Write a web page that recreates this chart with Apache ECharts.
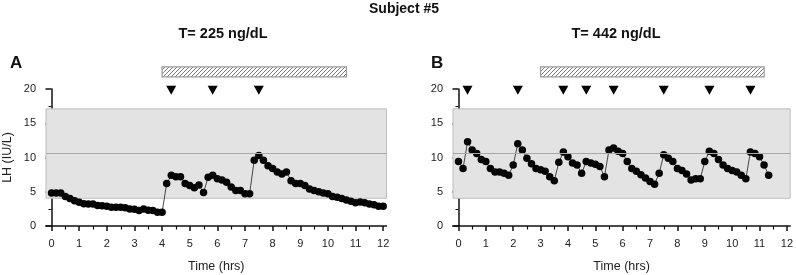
<!DOCTYPE html>
<html>
<head>
<meta charset="utf-8">
<script src="https://cdn.jsdelivr.net/npm/echarts@6/dist/echarts.min.js"></script>
<style>
  html, body { margin: 0; padding: 0; background: #fff; }
  #main { width: 796px; height: 275px; }
</style>
</head>
<body>
<div id="main"></div>
<script>
// sample times (minutes from start)
var minutesA = [0, 10, 20, 30, 40, 50, 60, 70, 80, 90, 100, 110, 120, 130, 140, 150, 160, 170,
  180, 190, 200, 210, 220, 230, 240, 250, 260, 270, 280, 290, 300, 310, 320, 330, 340, 350,
  360, 370, 380, 390, 400, 410, 420, 430, 440, 450, 460, 470, 480, 490, 500, 510, 520, 530,
  540, 550, 560, 570, 580, 590, 600, 610, 620, 630, 640, 650, 660, 670, 680, 690, 700, 710, 720];
var lhA = [4.8, 4.8, 4.8, 4.3, 4.0, 3.7, 3.45, 3.25, 3.2, 3.2, 3.0, 2.95,
  2.9, 2.75, 2.75, 2.75, 2.65, 2.5, 2.45, 2.25, 2.5, 2.3, 2.25, 2.0,
  2.0, 6.2, 7.4, 7.2, 7.2, 6.2, 5.9, 5.6, 6.0, 4.9, 7.1, 7.4,
  6.9, 6.7, 6.4, 5.7, 5.2, 5.2, 4.7, 4.7, 9.6, 10.3, 9.6, 8.8,
  8.4, 7.9, 7.6, 7.9, 6.6, 6.2, 6.2, 5.9, 5.4, 5.2, 5.0, 4.8,
  4.7, 4.3, 4.2, 4.0, 3.8, 3.6, 3.4, 3.5, 3.4, 3.2, 3.1, 2.9, 2.9];

var minutesB = [0, 10, 20, 30, 40, 50, 60, 70, 80, 90, 100, 110, 120, 130, 140, 150, 160, 170,
  180, 190, 200, 210, 220, 230, 240, 250, 260, 270, 280, 290, 300, 310, 320, 330, 340, 350,
  360, 370, 380, 390, 400, 410, 420, 430, 440, 450, 460, 470, 480, 490, 500, 510, 520, 530,
  540, 550, 560, 570, 580, 590, 600, 610, 620, 630, 640, 650, 660, 670, 680];
var lhB = [9.4, 8.4, 12.3, 11.1, 10.6, 9.7, 9.4, 8.4, 7.9, 7.9, 7.7, 7.4,
  8.9, 12.0, 11.1, 9.9, 9.1, 8.4, 8.2, 8.0, 7.2, 6.6, 9.3, 10.8,
  10.1, 9.2, 8.9, 7.7, 9.4, 9.2, 9.0, 8.7, 7.2, 11.1, 11.4, 10.9,
  10.6, 9.4, 8.4, 8.0, 7.5, 7.0, 6.5, 6.1, 7.7, 10.4, 9.9, 9.4,
  8.4, 8.1, 7.6, 6.7, 6.9, 6.9, 9.4, 10.9, 10.6, 9.7, 8.9, 8.4,
  8.1, 7.9, 7.4, 6.9, 10.8, 10.6, 10.1, 8.9, 7.4];

// pulse markers (hrs) and treatment bars [start, end] (hrs)
var pulsesA = [4.33, 5.83, 7.5];
var pulsesB = [0.33, 2.17, 3.83, 4.67, 5.67, 7.5, 9.17, 10.67];
var barA = [4, 10.67];
var barB = [3, 11.17];

// normal range band and mean line
var normalRange = [4.05, 17.1];
var normalMean = 10.6;

var hourTicks = [0, 1, 2, 3, 4, 5, 6, 7, 8, 9, 10, 11, 12];
var halfTicks = [0.5, 1.5, 2.5, 3.5, 4.5, 5.5, 6.5, 7.5, 8.5, 9.5, 10.5, 11.5];

var FONT = 'Liberation Sans, Arial, sans-serif';

function toPairs(mins, vals) {
  return mins.map(function (m, i) { return [m / 60, vals[i]]; });
}

// diagonal hatch pattern
var hatch = document.createElement('canvas');
hatch.width = 4; hatch.height = 4;
(function () {
  var c = hatch.getContext('2d');
  c.fillStyle = '#fff';
  c.fillRect(0, 0, 4, 4);
  c.strokeStyle = '#7a7a7a';
  c.lineWidth = 1;
  c.beginPath();
  c.moveTo(-1, 5); c.lineTo(5, -1);
  c.moveTo(-1, 1); c.lineTo(1, -1);
  c.moveTo(3, 5); c.lineTo(5, 3);
  c.stroke();
})();

function renderBar(params, api) {
  var a = api.coord([api.value(0), api.value(2)]);
  var b = api.coord([api.value(1), api.value(2)]);
  return {
    type: 'rect',
    shape: { x: a[0], y: a[1] - 5, width: b[0] - a[0], height: 10 },
    style: { fill: { image: hatch, repeat: 'repeat' }, stroke: '#9a9a9a', lineWidth: 1.2 }
  };
}

// short half-hour ticks below the x axis line
function renderMinorTick(params, api) {
  var p = api.coord([api.value(0), 0]);
  var x = Math.round(p[0]) + 0.5;
  return {
    type: 'line',
    shape: { x1: x, y1: p[1], x2: x, y2: p[1] + 3.5 },
    style: { stroke: '#111', lineWidth: 1.2 }
  };
}

function mainX(grid) {
  return {
    type: 'value', gridIndex: grid, min: -0.2, max: 12.12,
    name: 'Time (hrs)', nameLocation: 'middle', nameGap: 34,
    nameTextStyle: { fontFamily: FONT, fontSize: 12.5, color: '#222' },
    axisLine: { show: true, lineStyle: { color: '#111', width: 1.5 } },
    axisTick: { show: true, customValues: hourTicks, length: 5, lineStyle: { color: '#111', width: 1.5 } },
    axisLabel: { customValues: hourTicks, margin: 12, fontFamily: FONT, fontSize: 11, color: '#222' },
    splitLine: { show: false }
  };
}
function yAx(grid, withName) {
  return {
    type: 'value', gridIndex: grid, min: 0, max: 20, interval: 5,
    name: withName ? 'LH (IU/L)' : '', nameLocation: 'middle', nameGap: 32,
    nameTextStyle: { fontFamily: FONT, fontSize: 12.5, color: '#222' },
    axisLine: { show: true, lineStyle: { color: '#111', width: 1.5 } },
    axisTick: { show: true, length: 6, lineStyle: { color: '#111', width: 1.5 } },
    minorTick: { show: true, splitNumber: 2, length: 3, lineStyle: { color: '#111', width: 1 } },
    axisLabel: { margin: 10, fontFamily: FONT, fontSize: 11, color: '#222' },
    splitLine: { show: false },
    minorSplitLine: { show: false }
  };
}

function lhSeries(gi, data) {
  return {
    type: 'line', xAxisIndex: gi, yAxisIndex: gi, data: data,
    symbol: 'circle', symbolSize: 7.5, showAllSymbol: true,
    itemStyle: { color: '#050505', opacity: 1 },
    lineStyle: { color: '#333', width: 0.9 },
    markArea: {
      silent: true,
      itemStyle: { color: '#e3e3e3', borderColor: '#bdbdbd', borderWidth: 1 },
      data: [[{ yAxis: normalRange[0] }, { yAxis: normalRange[1] }]]
    },
    markLine: {
      silent: true, symbol: 'none', label: { show: false },
      lineStyle: { color: '#a8a8a8', type: 'solid', width: 1 },
      data: [{ yAxis: normalMean }]
    },
    z: 3
  };
}
function pulseSeries(gi, pulses) {
  return {
    type: 'scatter', xAxisIndex: gi, yAxisIndex: gi, clip: false,
    data: pulses.map(function (p) { return [p, 19.8]; }),
    symbol: 'triangle', symbolRotate: 180, symbolSize: [10, 9],
    itemStyle: { color: '#000', opacity: 1 }, z: 4
  };
}
function barSeries(gi, bar) {
  return {
    type: 'custom', xAxisIndex: gi, yAxisIndex: gi, clip: false,
    renderItem: renderBar, data: [[bar[0], bar[1], 22.5]],
    encode: { x: [0, 1], y: 2 }, z: 4
  };
}
function minorTickSeries(gi) {
  return {
    type: 'custom', xAxisIndex: gi, yAxisIndex: gi, clip: false, silent: true,
    renderItem: renderMinorTick, data: halfTicks.map(function (h) { return [h]; }),
    encode: { x: 0 }, z: 5
  };
}

var chart = echarts.init(document.getElementById('main'), null, { renderer: 'canvas' });
chart.setOption({
  animation: false,
  backgroundColor: '#fff',
  textStyle: { fontFamily: FONT },
  title: [
    { text: 'Subject #5', left: 399, top: -3, textAlign: 'center',
      textStyle: { fontFamily: FONT, fontSize: 14, fontWeight: 'bold', color: '#111' } },
    { text: 'T= 225 ng/dL', left: 218, top: 21, textAlign: 'center',
      textStyle: { fontFamily: FONT, fontSize: 14.5, fontWeight: 'bold', color: '#111' } },
    { text: 'T= 442 ng/dL', left: 611, top: 21, textAlign: 'center',
      textStyle: { fontFamily: FONT, fontSize: 14.5, fontWeight: 'bold', color: '#111' } },
    { text: 'A', left: 5, top: 50,
      textStyle: { fontFamily: FONT, fontSize: 17, fontWeight: 'bold', color: '#111' } },
    { text: 'B', left: 426, top: 50,
      textStyle: { fontFamily: FONT, fontSize: 17, fontWeight: 'bold', color: '#111' } }
  ],
  grid: [
    { left: 45.5, top: 89, width: 341, height: 137 },
    { left: 453, top: 89, width: 341, height: 137 }
  ],
  xAxis: [mainX(0), mainX(1)],
  yAxis: [yAx(0, true), yAx(1, false)],
  series: [
    lhSeries(0, toPairs(minutesA, lhA)),
    pulseSeries(0, pulsesA),
    barSeries(0, barA),
    minorTickSeries(0),
    lhSeries(1, toPairs(minutesB, lhB)),
    pulseSeries(1, pulsesB),
    barSeries(1, barB),
    minorTickSeries(1)
  ]
});
</script>
</body>
</html>
